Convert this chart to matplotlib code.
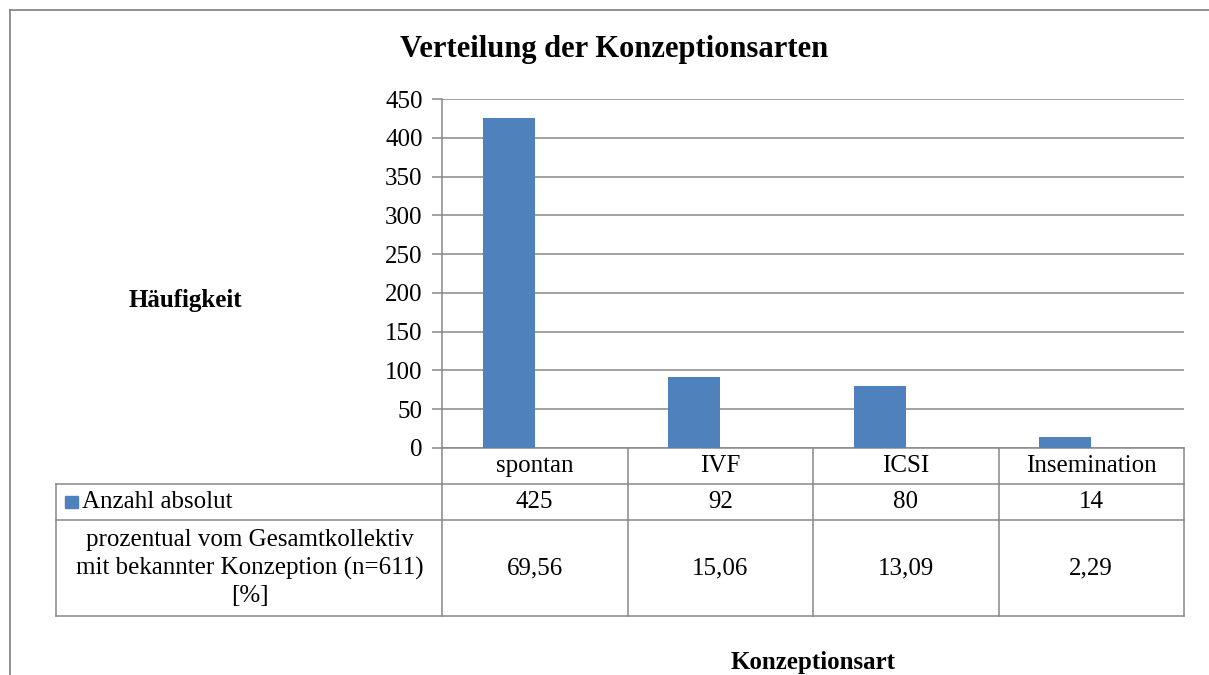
import numpy as np
import matplotlib.pyplot as plt

plt.rcParams['font.family'] = ['Liberation Serif', 'DejaVu Serif']

# data
categories = ["spontan", "IVF", "ICSI", "Insemination"]
counts = [425, 92, 80, 14]
percent_labels = ["69,56", "15,06", "13,09", "2,29"]
row1_label = "Anzahl absolut"
row2_label = "prozentual vom Gesamtkollektiv\nmit bekannter Konzeption (n=611)\n[%]"

W, H = 1209, 675
bar_color = "#4F81BD"
line_color = "#888888"
fs = 18

fig = plt.figure(figsize=(W / 100, H / 100), dpi=100)

# plot area in pixels
px_left, px_right, px_top, px_bottom = 442, 1184, 99, 448
ax = fig.add_axes([px_left / W, 1 - px_bottom / H,
                   (px_right - px_left) / W, (px_bottom - px_top) / H])

x = np.arange(len(categories))
# bars sit a little left of the column centre (empty second series slot)
ax.bar(x - 0.14, counts, width=0.28, color=bar_color, zorder=3)
ax.set_xlim(-0.5, len(categories) - 0.5)
ax.set_ylim(0, 450)
ax.set_yticks(np.arange(0, 451, 50))
ax.set_xticks([])
ax.yaxis.grid(True, color=line_color, linewidth=1.1)
ax.set_axisbelow(True)
for side in ["top", "right"]:
    ax.spines[side].set_visible(False)
for side in ["left", "bottom"]:
    ax.spines[side].set_color(line_color)
    ax.spines[side].set_linewidth(1.1)
ax.tick_params(axis="y", length=7, width=1.1, color=line_color, pad=7,
               labelsize=fs)

# data table below the axis
def frac(ypix):
    return (px_bottom - ypix) / (px_bottom - px_top)

tr = ax.get_xaxis_transform()
for i, cat in enumerate(categories):
    ax.text(i, frac(466), cat, transform=tr, ha="center", va="center",
            fontsize=fs, clip_on=False)
    ax.text(i, frac(502), str(counts[i]), transform=tr, ha="center",
            va="center", fontsize=fs, clip_on=False)
    ax.text(i, frac(568), percent_labels[i], transform=tr, ha="center",
            va="center", fontsize=fs, clip_on=False)

# overlay in pixel coordinates for table lines and loose labels
ov = fig.add_axes([0, 0, 1, 1], zorder=-1)
ov.set_xlim(0, W)
ov.set_ylim(H, 0)
ov.axis("off")

lw = 1.1
col_w = (px_right - px_left) / len(categories)
for k in range(len(categories) + 1):
    xx = px_left + k * col_w
    ov.plot([xx, xx], [px_bottom, 616], color=line_color, lw=lw)
for yy in [484, 520, 616]:
    ov.plot([56, px_right], [yy, yy], color=line_color, lw=lw)
ov.plot([56, 56], [484, 616], color=line_color, lw=lw)

# outer chart frame (top and left visible)
ov.plot([10, W], [10, 10], color=line_color, lw=1.3)
ov.plot([10, 10], [10, H], color=line_color, lw=1.3)

# legend key + row labels
ov.add_patch(plt.Rectangle((65, 496), 13, 12, color=bar_color))
ov.text(82, 502, row1_label, ha="left", va="center", fontsize=fs)
ov.text(250, 568, row2_label, ha="center", va="center", fontsize=fs,
        linespacing=1.3)

ov.text(614, 50, "Verteilung der Konzeptionsarten", ha="center", va="center",
        fontsize=22, fontweight="bold")
ov.text(185, 300, "Häufigkeit", ha="center", va="center", fontsize=fs,
        fontweight="bold")
ov.text(813, 663, "Konzeptionsart", ha="center", va="center", fontsize=fs,
        fontweight="bold")

fig.savefig("out.png", dpi=100)
